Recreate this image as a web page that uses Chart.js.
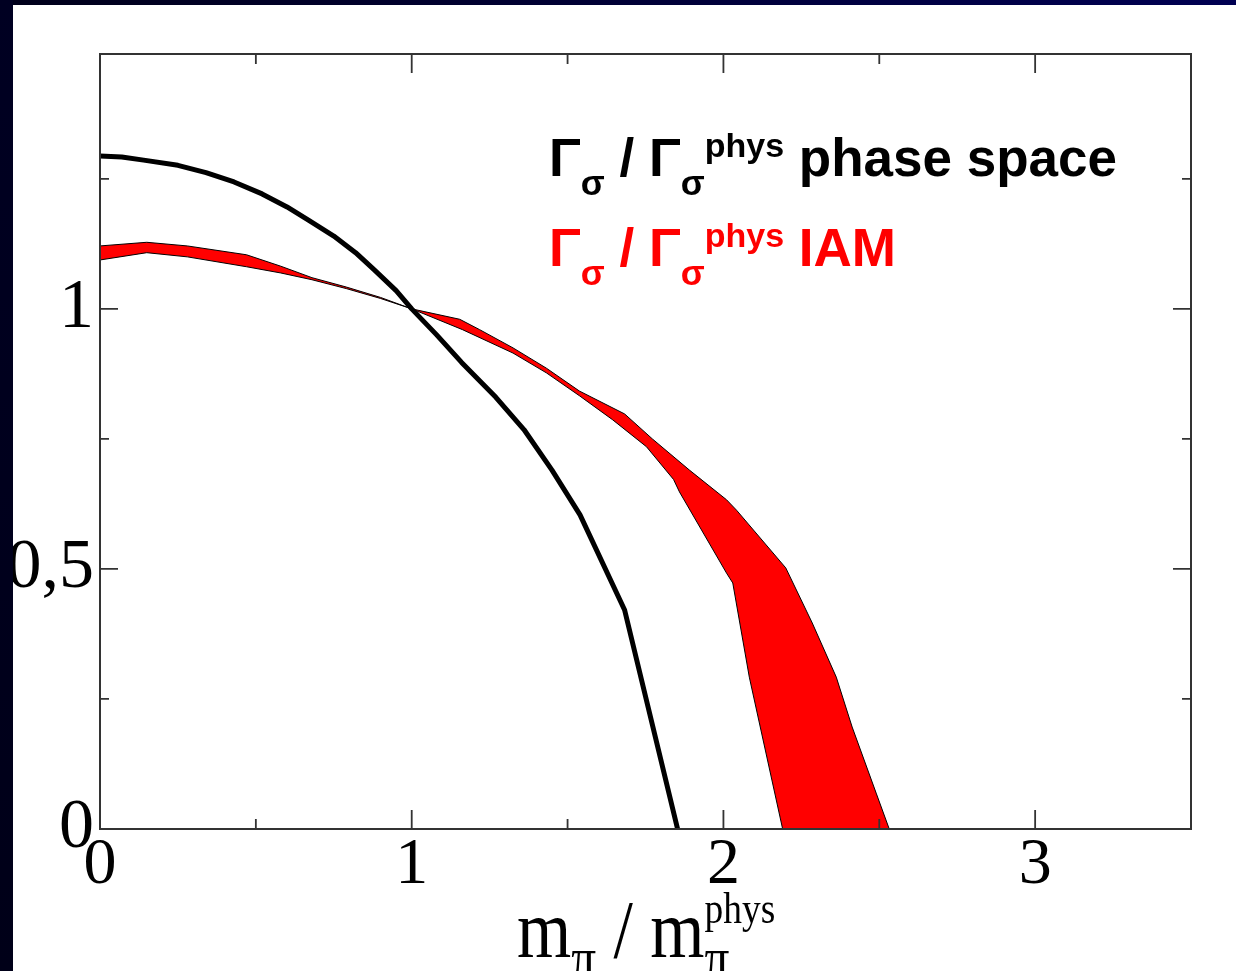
<!DOCTYPE html>
<html>
<head>
<meta charset="utf-8">
<script src="https://cdn.jsdelivr.net/npm/chart.js@4.4.1/dist/chart.umd.min.js"></script>
<style>
html,body{margin:0;padding:0;background:#fff;overflow:hidden;}
#wrap{position:relative;width:1236px;height:971px;background:#fff;}
#c{position:absolute;left:0;top:0;}
#bandTop{position:absolute;left:0;top:0;width:1236px;height:5px;background:linear-gradient(to right,#00001a,#000052);}
#bandLeft{position:absolute;left:0;top:0;width:13px;height:971px;background:linear-gradient(to bottom,#000022,#000018);}
</style>
</head>
<body>
<div id="wrap">
<canvas id="c" width="1236" height="971"></canvas>
<div id="bandTop"></div>
<div id="bandLeft"></div>
</div>
<script>
// ---- axis ticks ----
const xMajorTicks = [0, 1, 2, 3];
const xTickLabels = ['0', '1', '2', '3'];
const xMinorTicks = [0.5, 1.5, 2.5];
const yMajorTicks = [0, 0.5, 1];
const yTickLabels = ['0', '0,5', '1'];
const yMinorTicks = [0.25, 0.75, 1.25];

// ---- phase space curve (black) ----
const phaseX = [0, 0.07, 0.14, 0.25, 0.34, 0.43, 0.52, 0.6, 0.67, 0.75, 0.82, 0.88, 0.95, 1.0, 1.08, 1.16, 1.27, 1.36, 1.45, 1.54, 1.683, 1.853];
const phaseY = [1.294, 1.292, 1.286, 1.276, 1.262, 1.244, 1.221, 1.196, 1.170, 1.140, 1.108, 1.075, 1.035, 1.0, 0.950, 0.897, 0.830, 0.768, 0.690, 0.604, 0.421, 0];

// ---- IAM band (red) ----
const iamUpperX = [0, 0.15, 0.28, 0.47, 0.58, 0.68, 0.79, 0.9, 1.0, 1.154, 1.218, 1.325, 1.432, 1.538, 1.683, 1.772, 1.891, 2.01, 2.042, 2.2, 2.285, 2.362, 2.413, 2.49, 2.532];
const iamUpperY = [1.121, 1.128, 1.121, 1.104, 1.082, 1.060, 1.042, 1.022, 1.0, 0.980, 0.960, 0.925, 0.886, 0.842, 0.798, 0.750, 0.690, 0.633, 0.613, 0.502, 0.396, 0.292, 0.196, 0.069, 0];
const iamLowerX = [0, 0.15, 0.28, 0.47, 0.58, 0.68, 0.79, 0.9, 1.0, 1.163, 1.325, 1.432, 1.538, 1.644, 1.753, 1.84, 1.859, 2.01, 2.03, 2.083, 2.19];
const iamLowerY = [1.094, 1.108, 1.100, 1.081, 1.069, 1.056, 1.039, 1.020, 1.0, 0.960, 0.915, 0.877, 0.833, 0.787, 0.735, 0.672, 0.648, 0.492, 0.473, 0.292, 0];

// ---- texts ----
const legendPhaseText = ['Γ', 'σ', ' / ', 'Γ', 'σ', 'phys', ' phase space'];
const legendIamText   = ['Γ', 'σ', ' / ', 'Γ', 'σ', 'phys', ' IAM'];
const legendRoles     = ['n', 'sub', 'n', 'n', 'sub', 'sup', 'n'];
const xTitleText  = ['m', 'π', ' / ', 'm', 'phys', 'π'];
const xTitleRoles = ['n', 'sub', 'n', 'n', 'sup', 'substack'];

const bandPoints = iamUpperX.map((x, i) => ({x: x, y: iamUpperY[i]}))
  .concat(iamLowerX.map((x, i) => ({x: x, y: iamLowerY[i]})).reverse());
bandPoints.push({x: iamUpperX[0], y: iamUpperY[0]});

function drawRuns(ctx, texts, roles, x0, base, st) {
  ctx.save();
  ctx.translate(x0, 0);
  ctx.scale(st.sx || 1, 1);
  let x = 0;
  let lastStart = 0;
  ctx.textBaseline = 'alphabetic';
  ctx.textAlign = 'left';
  texts.forEach((t, i) => {
    const r = roles[i];
    let size = st.main, dy = 0, px = x, advance = true;
    if (r === 'sub') { size = st.sub; dy = st.subDy; }
    if (r === 'sup') { size = st.sup; dy = st.supDy; }
    if (r === 'substack') { size = st.sub; dy = st.subDy; px = lastStart; advance = false; }
    ctx.font = st.weight + ' ' + size + 'px ' + st.family;
    ctx.fillStyle = st.color;
    ctx.fillText(t, px, base + dy);
    const w = ctx.measureText(t).width;
    if (advance) { lastStart = x; x += w; }
  });
  ctx.restore();
}

const framePlugin = {
  id: 'frame',
  afterDatasetsDraw(chart) {
    const ctx = chart.ctx;
    const xs = chart.scales.x, ys = chart.scales.y;
    const a = chart.chartArea;
    ctx.save();
    ctx.strokeStyle = '#333333';
    ctx.lineWidth = 2;
    ctx.strokeRect(a.left, a.top, a.right - a.left, a.bottom - a.top);
    ctx.lineWidth = 1.8;
    const tickX = (v, len) => {
      const p = xs.getPixelForValue(v);
      ctx.beginPath();
      ctx.moveTo(p, a.bottom); ctx.lineTo(p, a.bottom - len);
      ctx.moveTo(p, a.top); ctx.lineTo(p, a.top + len);
      ctx.stroke();
    };
    const tickY = (v, len) => {
      const p = ys.getPixelForValue(v);
      ctx.beginPath();
      ctx.moveTo(a.left, p); ctx.lineTo(a.left + len, p);
      ctx.moveTo(a.right, p); ctx.lineTo(a.right - len, p);
      ctx.stroke();
    };
    xMajorTicks.forEach(v => tickX(v, 19));
    xMinorTicks.forEach(v => tickX(v, 10));
    yMajorTicks.forEach(v => tickY(v, 18));
    yMinorTicks.forEach(v => tickY(v, 9));
    ctx.restore();
  },
  afterDraw(chart) {
    const ctx = chart.ctx;
    const legStyle = {family: '"Liberation Sans", Arial, sans-serif', weight: 'bold', main: 53, sub: 35, sup: 34, subDy: 19, supDy: -19, color: '#000', sx: 1};
    drawRuns(ctx, legendPhaseText, legendRoles, 549, 176, legStyle);
    drawRuns(ctx, legendIamText, legendRoles, 549, 266, Object.assign({}, legStyle, {color: '#ff0000'}));
    const titStyle = {family: '"Liberation Serif", "Times New Roman", serif', weight: 'normal', main: 82, sub: 58, sup: 44, subDy: 20, supDy: -34, color: '#000', sx: 0.85};
    drawRuns(ctx, xTitleText, xTitleRoles, 517, 957, titStyle);
  }
};

const ctx = document.getElementById('c').getContext('2d');
new Chart(ctx, {
  type: 'line',
  data: {
    datasets: [
      {
        label: 'Γσ / Γσphys phase space',
        data: phaseX.map((x, i) => ({x: x, y: phaseY[i]})),
        borderColor: '#000000',
        borderWidth: 5,
        borderJoinStyle: 'round',
        pointRadius: 0,
        fill: false,
        tension: 0,
        order: 0
      },
      {
        label: 'Γσ / Γσphys IAM',
        data: bandPoints,
        borderColor: '#000000',
        borderWidth: 1,
        backgroundColor: '#ff0000',
        fill: 'shape',
        pointRadius: 0,
        tension: 0,
        order: 1
      }
    ]
  },
  options: {
    responsive: false,
    animation: false,
    devicePixelRatio: 1,
    layout: {padding: {left: 0, right: 45, top: 54, bottom: 0}},
    plugins: {legend: {display: false}, tooltip: {enabled: false}},
    scales: {
      x: {
        type: 'linear', min: 0, max: 3.5,
        grid: {display: false, drawTicks: false},
        border: {display: false},
        afterBuildTicks: s => { s.ticks = xMajorTicks.map(v => ({value: v})); },
        ticks: {
          callback: v => { const i = xMajorTicks.indexOf(v); return i >= 0 ? xTickLabels[i] : ''; },
          font: {family: '"Liberation Serif", "Times New Roman", serif', size: 66},
          color: '#000', padding: -3, maxRotation: 0, autoSkip: false
        },
        afterFit: s => { s.height = 142; }
      },
      y: {
        type: 'linear', min: 0, max: 1.49,
        grid: {display: false, drawTicks: false},
        border: {display: false},
        afterBuildTicks: s => { s.ticks = yMajorTicks.map(v => ({value: v})); },
        ticks: {
          callback: v => { const i = yMajorTicks.indexOf(v); return i >= 0 ? yTickLabels[i] : ''; },
          font: {family: '"Liberation Serif", "Times New Roman", serif', size: 70},
          color: '#000', padding: 6, autoSkip: false
        },
        afterFit: s => { s.width = 100; }
      }
    }
  },
  plugins: [framePlugin]
});
</script>
</body>
</html>
